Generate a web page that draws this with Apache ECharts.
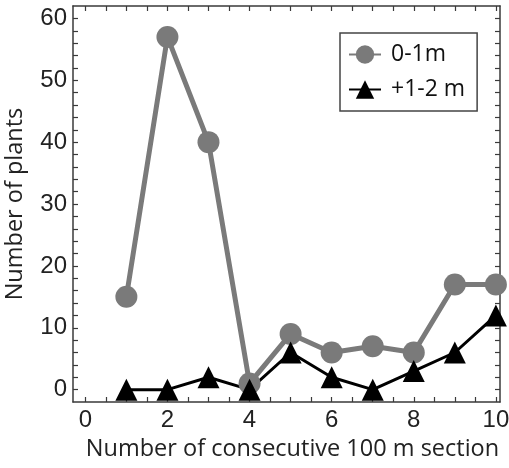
<!DOCTYPE html>
<html>
<head>
<meta charset="utf-8">
<script src="https://cdn.jsdelivr.net/npm/echarts@6/dist/echarts.min.js"></script>
<style>html,body{margin:0;padding:0;background:#fff;}#c{width:509px;height:468px;}</style>
</head>
<body>
<div id="c"></div>
<script>
const sections = [1, 2, 3, 4, 5, 6, 7, 8, 9, 10];
const plants0to1 = [15, 57, 40, 1, 9, 6, 7, 6, 17, 17];
const plants1to2 = [0, 0, 2, 0, 6, 2, 0, 3, 6, 12];
const seriesNames = ['0-1m', '+1-2 m'];
const xTickLabels = [0, 2, 4, 6, 8, 10];
const yTickLabels = [0, 10, 20, 30, 40, 50, 60];
const xMinorTicks = [0, 0.5, 1, 1.5, 2, 2.5, 3, 3.5, 4, 4.5, 5, 5.5, 6, 6.5, 7, 7.5, 8, 8.5, 9, 9.5, 10];
const yMinorTicks = [0, 2, 4, 6, 8, 10, 12, 14, 16, 18, 20, 22, 24, 26, 28, 30, 32, 34, 36, 38, 40, 42, 44, 46, 48, 50, 52, 54, 56, 58, 60];

const pair = (xs, ys) => xs.map((x, i) => [x, ys[i]]);
const axisCol = '#3a3a3a';
const tickFont = { fontFamily: 'Liberation Sans', fontSize: 24, color: '#222' };
const titleFont = { fontFamily: 'Open Sans', fontSize: 23.5, color: '#222' };

function xAx(pos, labels) {
  return {
    type: 'value', position: pos, min: -0.3, max: 10.1,
    axisLine: { show: true, onZero: false, lineStyle: { color: axisCol, width: 1.5 } },
    axisTick: { show: true, inside: true, length: 5, customValues: xMinorTicks, lineStyle: { color: axisCol, width: 1.2 } },
    axisLabel: { show: labels, customValues: xTickLabels, margin: 6, ...tickFont },
    splitLine: { show: false },
    name: labels ? 'Number of consecutive 100 m section' : '',
    nameLocation: 'middle', nameGap: 26, nameTextStyle: { ...titleFont, padding: [0, 0, 0, 12] }
  };
}
function yAx(pos, labels) {
  return {
    type: 'value', position: pos, min: -2, max: 62,
    axisLine: { show: true, onZero: false, lineStyle: { color: axisCol, width: 1.5 } },
    axisTick: { show: true, inside: true, length: 5, customValues: yMinorTicks, lineStyle: { color: axisCol, width: 1.2 } },
    axisLabel: { show: labels, customValues: yTickLabels, margin: 6, ...tickFont },
    splitLine: { show: false },
    name: labels ? 'Number of plants' : '',
    nameLocation: 'middle', nameGap: 46, nameTextStyle: { ...titleFont }
  };
}

const chart = echarts.init(document.getElementById('c'), null, { renderer: 'canvas' });
chart.setOption({
  animation: false,
  backgroundColor: '#fff',
  grid: { left: 73, right: 9, top: 6, bottom: 66, containLabel: false, outerBoundsMode: 'none' },
  xAxis: [xAx('bottom', true), xAx('top', false)],
  yAxis: [yAx('left', true), yAx('right', false)],
  legend: {
    left: 340, top: 33, orient: 'vertical',
    padding: [10, 12, 10, 8], itemGap: 12,
    itemWidth: 32, itemHeight: 23,
    borderColor: '#444', borderWidth: 1.5,
    textStyle: { fontFamily: 'Open Sans', fontSize: 23, color: '#111', padding: [0, 0, 0, 5] },
    data: seriesNames
  },
  series: [
    {
      name: seriesNames[0], type: 'line', xAxisIndex: 0, yAxisIndex: 0,
      data: pair(sections, plants0to1),
      symbol: 'circle', symbolSize: 22,
      itemStyle: { color: '#7a7a7a' },
      lineStyle: { color: '#7a7a7a', width: 5 }
    },
    {
      name: seriesNames[1], type: 'line', xAxisIndex: 0, yAxisIndex: 0,
      data: pair(sections, plants1to2),
      symbol: 'triangle', symbolSize: 22,
      itemStyle: { color: '#000' },
      lineStyle: { color: '#000', width: 3 }
    }
  ]
});
</script>
</body>
</html>
